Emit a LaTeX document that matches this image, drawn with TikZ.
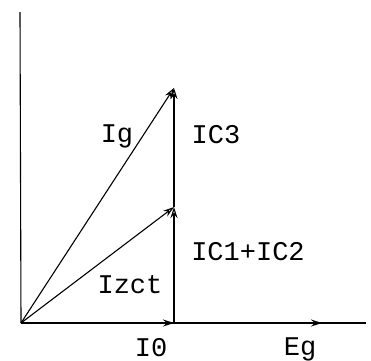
\documentclass[tikz,border=0pt]{standalone}
\usepackage{fontspec}
\setmonofont{Liberation Mono}
\usetikzlibrary{arrows.meta}
\begin{document}
\begin{tikzpicture}[x=1pt,y=-1pt,
  vec/.style={line width=1.1pt,-{Stealth[length=11pt,width=7pt,open]}},
  ax/.style={line width=1.1pt},
  lbl/.style={font=\ttfamily\fontsize{27}{27}\selectfont, inner sep=0pt}]
\useasboundingbox (0,0) rectangle (371,360);
\coordinate (O) at (21,323);
\coordinate (Y) at (20,12);
\coordinate (X) at (366,323);
\coordinate (E) at (322,323);
\coordinate (A) at (174,323);
\coordinate (B) at (174,207);
\coordinate (C) at (174,88);
\draw[ax] (O) -- (Y);
\draw[ax] (O) -- (X);
\draw[vec] (O) -- (E);
\draw[vec] (O) -- (A);
\draw[vec] (O) -- (B);
\draw[vec] (O) -- (C);
\draw[vec] (A) -- (B);
\draw[vec] (B) -- (C);
\node[lbl] (lg) at (117,136) {Ig};
\node[lbl] (lc3) at (216,135) {IC3};
\node[lbl] (lc12) at (248,252) {IC1+IC2};
\node[lbl] (lz) at (130,285) {Izct};
\node[lbl,anchor=base] (l0) at (151,356) {I0};
\node[lbl,anchor=base] (le) at (300,355) {Eg};
\end{tikzpicture}
\end{document}
